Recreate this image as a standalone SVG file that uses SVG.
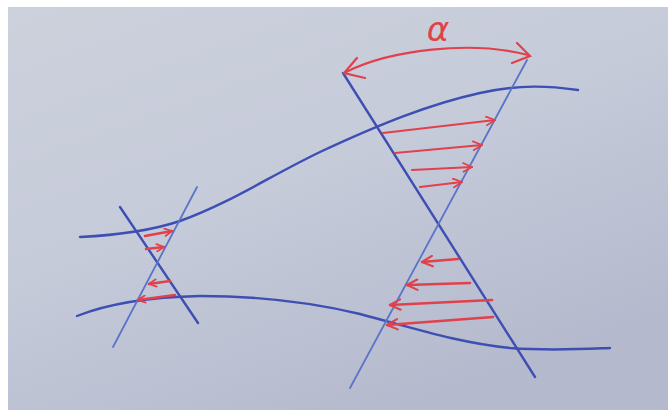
<svg xmlns="http://www.w3.org/2000/svg" width="668" height="410" viewBox="0 0 668 410">
<defs>
<linearGradient id="paper" x1="0" y1="0" x2="0.6" y2="1">
<stop offset="0" stop-color="#cdd1dc"/>
<stop offset="0.5" stop-color="#c6cbda"/>
<stop offset="1" stop-color="#b4b9cd"/>
</linearGradient>
<marker id="ah" viewBox="0 0 10 10" refX="9" refY="5" markerWidth="5" markerHeight="5" orient="auto" markerUnits="strokeWidth">
<path d="M1,1 L9,5 L1,9" fill="none" stroke="#e0414b" stroke-width="1.6" stroke-linecap="round" stroke-linejoin="round"/>
</marker>
<marker id="ahs" viewBox="0 0 10 10" refX="9" refY="5" markerWidth="3.5" markerHeight="3.5" orient="auto" markerUnits="strokeWidth">
<path d="M1,1 L9,5 L1,9" fill="none" stroke="#e0414b" stroke-width="2" stroke-linecap="round" stroke-linejoin="round"/>
</marker>
</defs>
<style>
.dk{fill:none;stroke:#3d4fb2;stroke-width:2.4;stroke-linecap:round}
.lt{fill:none;stroke:#5b74c8;stroke-width:1.8;stroke-linecap:round}
.rd{fill:none;stroke:#e0414b;stroke-width:2.2;stroke-linecap:round}
.rds{fill:none;stroke:#e0414b;stroke-width:2.6;stroke-linecap:round}
</style>
<rect width="668" height="410" fill="#ffffff"/>
<rect x="8" y="7" width="660" height="403" fill="url(#paper)"/>
<g id="streamlines">
<path class="dk" d="M80,237 C120,235 150,231 180,221 C230,203 270,176 320,152 C380,124 430,104 480,93 C520,84 550,86 578,90"/>
<path class="dk" d="M77,316 C110,303 150,297 200,296 C260,296 310,302 360,314 C420,330 460,343 510,348 C550,351 585,349 610,348"/>
</g>
<g id="small-x">
<path class="dk" d="M120,207 L198,323"/>
<path class="lt" d="M197,187 L113,347"/>
</g>
<g id="large-x">
<path class="dk" d="M343,73 L535,377"/>
<path class="lt" d="M527,60 L350,388"/>
</g>
<g id="connectors">
<path class="rds" marker-end="url(#ahs)" d="M145,236 L172,231"/>
<path class="rds" marker-end="url(#ahs)" d="M146,249 L164,247"/>
<path class="rds" marker-end="url(#ahs)" d="M170,281 L149,284"/>
<path class="rds" marker-end="url(#ahs)" d="M175,295 L138,300"/>
<path class="rd" marker-end="url(#ah)" d="M383,133 L495,120"/>
<path class="rd" marker-end="url(#ah)" d="M395,153 L482,145"/>
<path class="rd" marker-end="url(#ah)" d="M412,170 L472,167"/>
<path class="rd" marker-end="url(#ah)" d="M420,187 L462,182"/>
<path class="rds" marker-end="url(#ah)" d="M458,259 L422,262"/>
<path class="rds" marker-end="url(#ah)" d="M470,283 L407,285"/>
<path class="rds" marker-end="url(#ah)" d="M492,300 L390,305"/>
<path class="rds" marker-end="url(#ah)" d="M493,317 L387,325"/>
<path class="rd" d="M346,72 C390,50 470,40 528,55"/>
<path class="rd" d="M357,58 L344,73 L365,78"/>
<path class="rd" d="M517,43 L530,56 L512,63"/>
</g>
<g id="label-alpha">
<text x="438" y="41" text-anchor="middle" font-family="DejaVu Sans, sans-serif" font-style="italic" font-size="34" fill="#e0414b">α</text>
</g>
</svg>
